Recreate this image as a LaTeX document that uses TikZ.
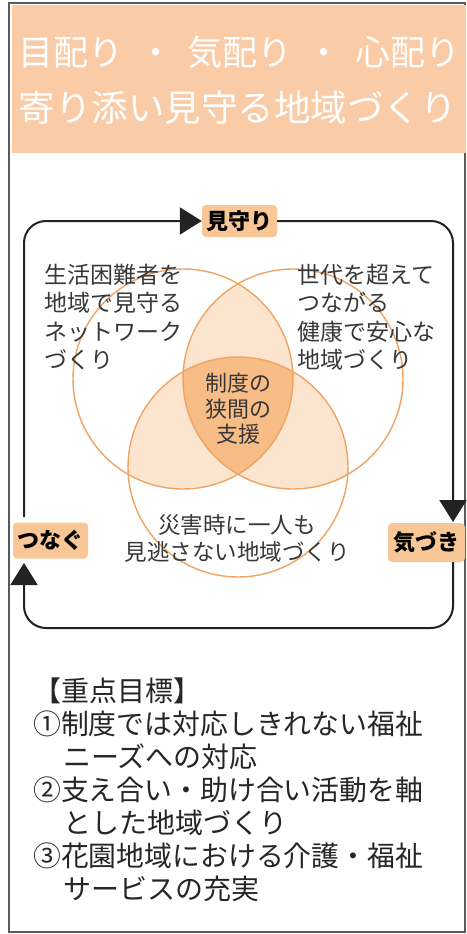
\documentclass[tikz,border=0pt]{standalone}
\usepackage{fontspec}
\usepackage{graphicx}
\setmainfont{Noto Sans CJK JP}
\usetikzlibrary{arrows.meta}
\definecolor{peach}{HTML}{F9CBA6}
\definecolor{boxfill}{HTML}{F9C696}
\definecolor{ringline}{HTML}{EFA462}
\definecolor{lightov}{HTML}{FCE5CF}
\definecolor{tripleov}{HTML}{F8BC86}
\definecolor{ink}{HTML}{383838}
\definecolor{loopc}{HTML}{222222}
\newcommand{\fitline}[1]{\resizebox{390pt}{\height}{#1}}
\tikzset{
  framec/.style={draw=black!65,line width=1.2pt},
  cyclebox/.style={fill=boxfill,rounded corners=4pt,inner sep=0pt,text=black,
    font=\bfseries\fontsize{22}{22}\selectfont},
  cycleline/.style={draw=loopc,line width=2pt,rounded corners=22pt,
    -{Triangle[length=22pt,width=27pt]}},
  ring/.style={draw=ringline,line width=1.4pt},
  lbl/.style={inner sep=0pt,text=ink,font=\fontsize{23}{28.5}\selectfont},
  goal/.style={inner sep=0pt,text=black!85,font=\fontsize{28}{33}\selectfont,align=left,anchor=north west}
}
\begin{document}
\begin{tikzpicture}[x=1pt,y=-1pt]
\useasboundingbox (0,0) rectangle (466,934);
\fill[white] (0,0) rectangle (466,934);
\draw[framec] (9,3) rectangle (465,932);
\fill[peach] (12,5) rectangle (466,153);
\node[inner sep=0pt,text=white,font=\fontsize{35}{35}\selectfont] (t1) at (240,52)
  {\makebox[442pt][s]{目配り ・ 気配り ・ 心配り}};
\node[inner sep=0pt,text=white,font=\fontsize{36.5}{36.5}\selectfont] (t2) at (238,108)
  {寄り添い見守る地域づくり};
% Venn circles
\coordinate (cA) at (183,379);
\coordinate (cB) at (293,379);
\coordinate (cC) at (238,467);
\begin{scope}
  \clip (cA) circle (110);
  \fill[lightov] (cB) circle (110);
\end{scope}
\begin{scope}
  \clip (cA) circle (110);
  \fill[lightov] (cC) circle (110);
\end{scope}
\begin{scope}
  \clip (cB) circle (110);
  \fill[lightov] (cC) circle (110);
\end{scope}
\begin{scope}
  \clip (cA) circle (110);
  \clip (cB) circle (110);
  \fill[tripleov] (cC) circle (110);
\end{scope}
\draw[ring] (cA) circle (110);
\draw[ring] (cB) circle (110);
\draw[ring] (cC) circle (110);
% labels
\node[lbl,align=left,anchor=north west] (la) at (44,263.5)
  {生活困難者を\\地域で見守る\\ネットワーク\\づくり};
\node[lbl,align=left,anchor=north west] (lb) at (297,263.5)
  {世代を超えて\\つながる\\健康で安心な\\地域づくり};
\node[lbl,align=center,anchor=north,font=\fontsize{22}{25.5}\selectfont] (lc) at (238,373)
  {制度の\\狭間の\\支援};
\node[lbl,align=center,anchor=north,font=\fontsize{22.5}{27}\selectfont] (ld) at (237,514)
  {災害時に一人も\\見逃さない地域づくり};
% cycle boxes
\node[cyclebox,minimum width=75pt,minimum height=32pt] (mimamori) at (239.5,221) {見守り};
\node[cyclebox,minimum width=77pt,minimum height=39pt] (kizuki) at (426.5,542.5) {気づき};
\node[cyclebox,minimum width=75pt,minimum height=36pt] (tsunagu) at (50.5,540.5) {つなぐ};
\coordinate (a1) at (24,517);
\coordinate (k1) at (453,522);
\coordinate (k2) at (453,562);
\coordinate (cBR) at (453,628);
\coordinate (cBL) at (24,628);
\coordinate (tn) at (24,563);
\draw[cycleline] (a1) |- (mimamori.west);
\draw[cycleline] (mimamori.east) -| (k1);
\draw[cycleline] (k2) -- (cBR) -- (cBL) -- (tn);
% goals
\node[goal] (g) at (33,678)
  {【重点目標】\\\fitline{①制度では対応しきれない福祉}\\\hspace*{30pt}ニーズへの対応\\\fitline{②支え合い・助け合い活動を軸}\\\hspace*{30pt}とした地域づくり\\\fitline{③花園地域における介護・福祉}\\\hspace*{30pt}サービスの充実};
\end{tikzpicture}
\end{document}
